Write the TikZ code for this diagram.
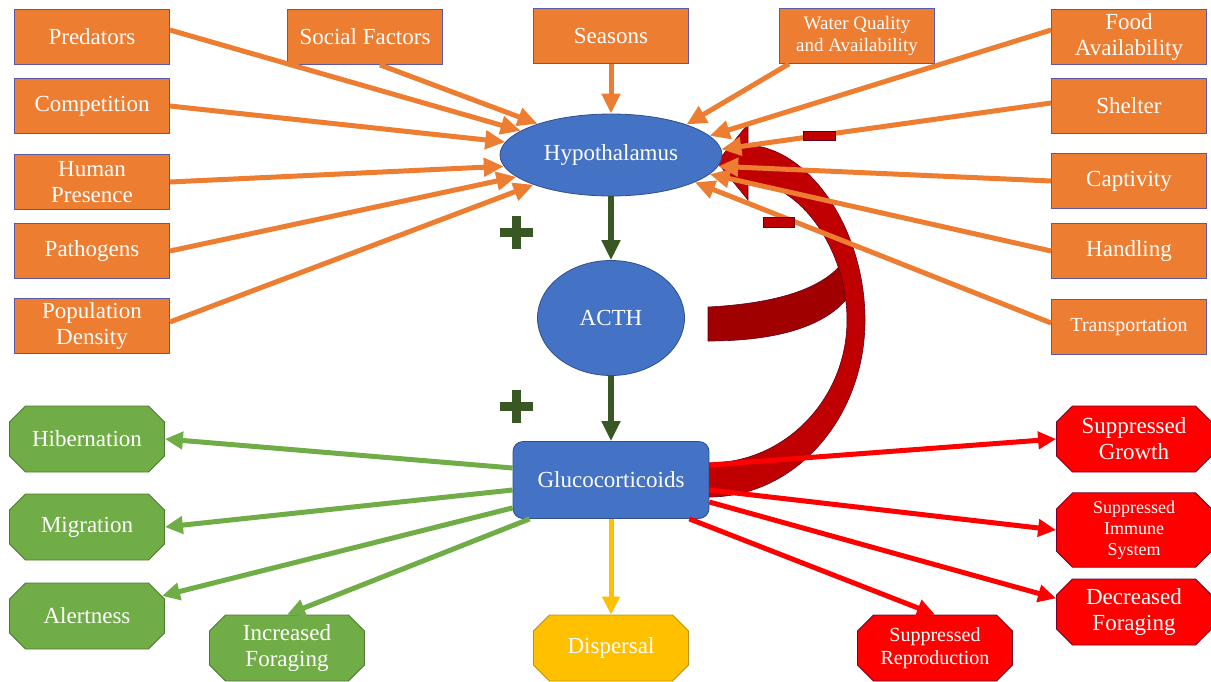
\documentclass[tikz,border=0pt]{standalone}
\usepackage{fontspec}
\setmainfont{Liberation Serif}
\usetikzlibrary{shapes.geometric, shapes.misc, arrows.meta}
\definecolor{factororange}{HTML}{ED7D31}
\definecolor{hormoneblue}{HTML}{4472C4}
\definecolor{lightgreen}{HTML}{70AD47}
\definecolor{darkgreen}{HTML}{385723}
\definecolor{dispyellow}{HTML}{FFC000}
\definecolor{feedred}{HTML}{C00000}
\definecolor{backred}{HTML}{A00000}
\tikzset{
  factor/.style={rectangle, draw=gray!70!blue, line width=0.8pt, fill=factororange,
    text=white, minimum width=155pt, minimum height=55pt, inner sep=1pt,
    align=center, font=\fontsize{23}{26}\selectfont},
  hormone/.style={draw=hormoneblue!70!black, line width=0.8pt, fill=hormoneblue,
    text=white, inner sep=0pt, font=\fontsize{23}{26}\selectfont},
  effect/.style={chamfered rectangle, chamfered rectangle xsep=8pt,
    chamfered rectangle ysep=8pt, line width=0.8pt, text=white,
    minimum width=155pt, minimum height=66pt, inner sep=0pt, align=center,
    font=\fontsize{23}{26}\selectfont},
  input/.style={draw=factororange, line width=5pt, -{Triangle[length=20pt, width=18pt]}},
  axis/.style={draw=darkgreen, line width=6pt, -{Triangle[length=20pt, width=18pt]}},
  output/.style={line width=5pt, -{Triangle[length=18pt, width=17pt]}}
}
\newcommand{\plussign}[2]{%
  \fill[darkgreen] (#1-16.5,#2-4.5) rectangle (#1+16.5,#2+4.5);
  \fill[darkgreen] (#1-4.5,#2-16.5) rectangle (#1+4.5,#2+16.5);}
\begin{document}
\begin{tikzpicture}[x=1pt, y=-1pt]
  \useasboundingbox (0,0) rectangle (1211,681);
  % negative feedback arrow
  \filldraw[fill=backred, draw=purple!50!black, line width=0.6pt]
    (708,307) .. controls (785,303) and (835,285) .. (850,250)
    -- (858,280) .. controls (840,325) and (780,341) .. (708,341) -- cycle;
  \filldraw[fill=feedred, draw=purple!50!black, line width=0.6pt]
    (748,145) .. controls (810,148) and (865,230) .. (865,320)
    .. controls (865,418) and (795,497) .. (709,497)
    -- (709,463) .. controls (785,463) and (847,399) .. (847,320)
    .. controls (847,250) and (800,182) .. (748,182)
    -- (748,200) -- (717,162) -- (748,124) -- cycle;
  % stressors
  \node[factor] (pred) at (92,37) {Predators};
  \node[factor] (comp) at (92,106) {Competition};
  \node[factor] (human) at (92,182) {Human\\Presence};
  \node[factor] (patho) at (92,251) {Pathogens};
  \node[factor] (popu) at (92,326) {Population\\Density};
  \node[factor] (social) at (365,37) {Social Factors};
  \node[factor] (seasons) at (611,36) {Seasons};
  \node[factor, font=\fontsize{19}{22}\selectfont] (water) at (857,36) {Water Quality\\and Availability};
  \node[factor] (food) at (1129,37) {Food\\Availability};
  \node[factor] (shelter) at (1129,106) {Shelter};
  \node[factor] (capt) at (1129,181) {Captivity};
  \node[factor] (handl) at (1129,251) {Handling};
  \node[factor, font=\fontsize{20}{23}\selectfont] (transp) at (1129,327) {Transportation};
  % hormones
  \node[hormone, ellipse, minimum width=222pt, minimum height=82pt] (hyp) at (611,155) {Hypothalamus};
  \node[hormone, ellipse, minimum width=147pt, minimum height=115pt] (acth) at (611,318) {ACTH};
  \node[hormone, rectangle, rounded corners=10pt, minimum width=196pt, minimum height=77pt] (gluco) at (611,480) {Glucocorticoids};
  % responses
  \node[effect, fill=lightgreen, draw=lightgreen!70!black] (hiber) at (87,439) {Hibernation};
  \node[effect, fill=lightgreen, draw=lightgreen!70!black] (migr) at (87,527) {Migration};
  \node[effect, fill=lightgreen, draw=lightgreen!70!black] (alert) at (87,616) {Alertness};
  \node[effect, fill=lightgreen, draw=lightgreen!70!black] (incfor) at (287,648) {Increased\\Foraging};
  \node[effect, fill=dispyellow, draw=dispyellow!75!black] (disp) at (611,648) {Dispersal};
  \node[effect, fill=red, draw=purple!60!black, font=\fontsize{20}{23}\selectfont] (suprep) at (935,648) {Suppressed\\Reproduction};
  \node[effect, fill=red, draw=purple!60!black] (supgro) at (1134,439) {Suppressed\\Growth};
  \node[effect, fill=red, draw=purple!60!black, font=\fontsize{18}{21}\selectfont] (supimm) at (1134,530) {Suppressed\\Immune\\System};
  \node[effect, fill=red, draw=purple!60!black] (decfor) at (1134,612) {Decreased\\Foraging};
  % stressor arrows
  \draw[input] ([yshift=7pt]pred.east) -- (hyp.165);
  \draw[input] ([xshift=15pt]social.south) -- (hyp.157);
  \draw[input] (comp.east) -- (hyp.173);
  \draw[input] (human.east) -- (hyp.186);
  \draw[input] (patho.east) -- (hyp.193);
  \draw[input] ([yshift=4pt]popu.east) -- (hyp.201);
  \draw[input] (seasons.south) -- (hyp.north);
  \draw[input] ([xshift=-68pt]water.south) -- (hyp.22);
  \draw[input] ([yshift=7pt]food.west) -- (hyp.11);
  \draw[input] ([yshift=3pt]shelter.west) -- (hyp.3);
  \draw[input] (capt.west) -- (hyp.-6);
  \draw[input] (handl.west) -- (hyp.-11);
  \draw[input] ([yshift=4pt]transp.west) -- (hyp.-18);
  % HPA axis
  \draw[axis] (hyp.south) -- (acth.north);
  \draw[axis] (acth.south) -- (gluco.north);
  \plussign{516}{232}
  \plussign{516}{406}
  \filldraw[fill=feedred, draw=purple!50!black, line width=0.6pt] (803,131) rectangle (835,140);
  \filldraw[fill=feedred, draw=purple!50!black, line width=0.6pt] (763,217) rectangle (794,227);
  % response arrows
  \draw[output, draw=lightgreen] ([yshift=12pt]gluco.west) -- (hiber.east);
  \draw[output, draw=lightgreen] ([yshift=-10pt]gluco.west) -- (migr.east);
  \draw[output, draw=lightgreen] ([yshift=11pt]gluco.south west) -- (alert.15);
  \draw[output, draw=lightgreen] ([xshift=17pt]gluco.south west) -- (incfor.north);
  \draw[output, draw=dispyellow] (gluco.south) -- (disp.north);
  \draw[output, draw=red] ([yshift=15pt]gluco.east) -- (supgro.west);
  \draw[output, draw=red] ([yshift=-10pt]gluco.east) -- (supimm.west);
  \draw[output, draw=red] ([yshift=-22pt]gluco.east) -- (decfor.170);
  \draw[output, draw=red] ([xshift=-20pt]gluco.south east) -- (suprep.north);
\end{tikzpicture}
\end{document}
